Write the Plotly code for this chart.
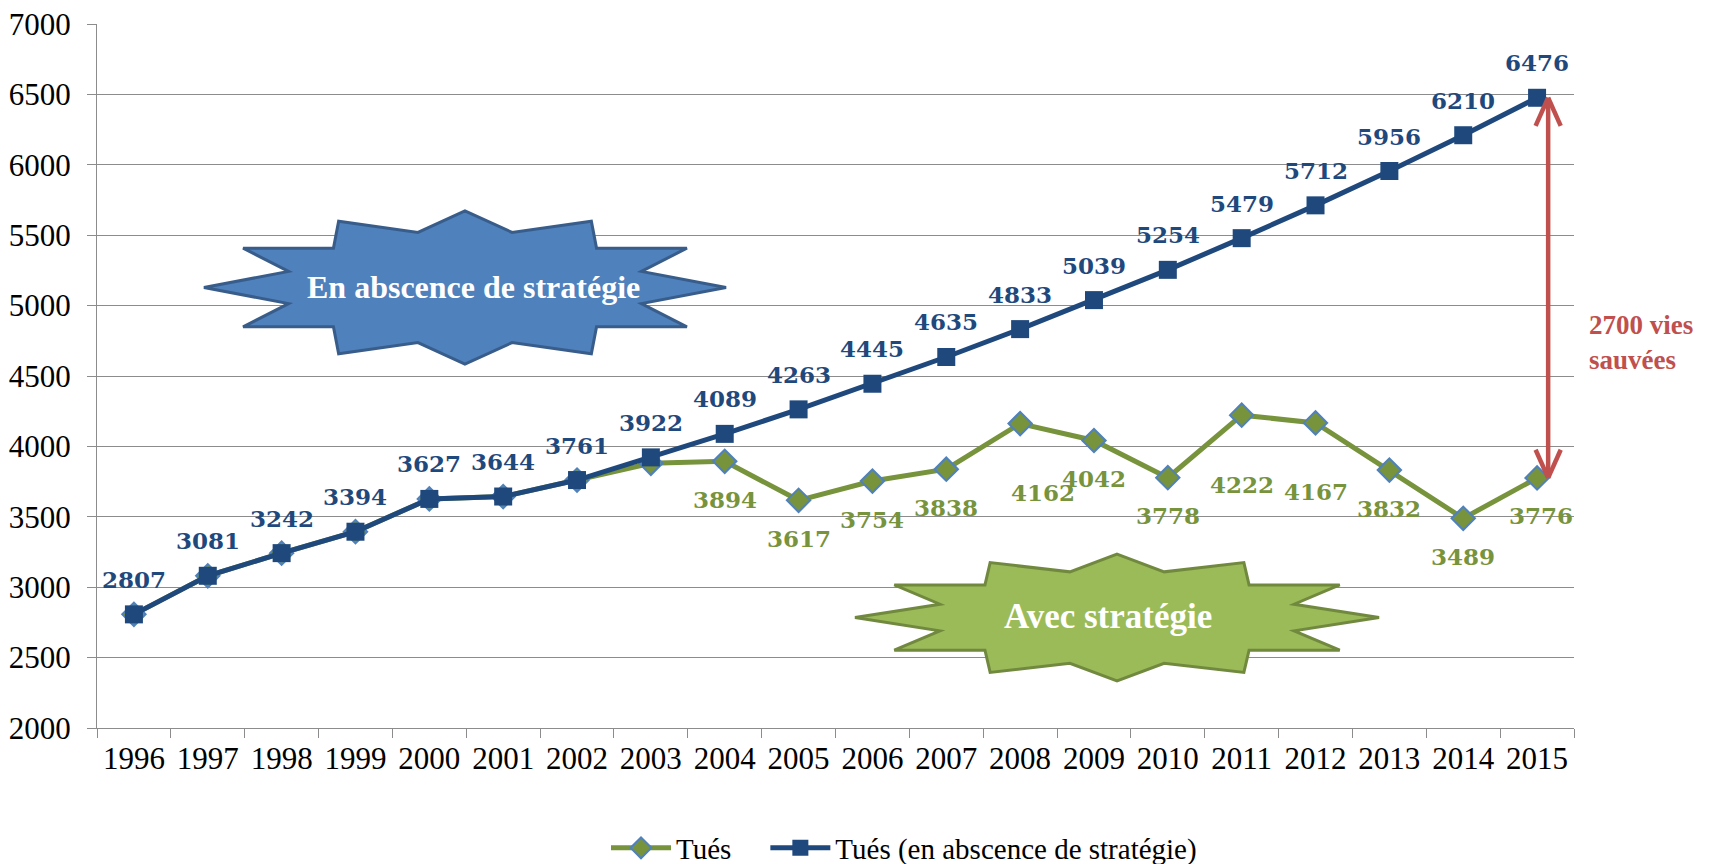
import plotly.graph_objects as go

years = [str(y) for y in range(1996, 2016)]
tues_sans = [2807, 3081, 3242, 3394, 3627, 3644, 3761, 3922, 4089, 4263,
             4445, 4635, 4833, 5039, 5254, 5479, 5712, 5956, 6210, 6476]
tues = [2807, 3081, 3242, 3394, 3627, 3644, 3761, 3880, 3894, 3617,
        3754, 3838, 4162, 4042, 3778, 4222, 4167, 3832, 3489, 3776]
first_green_label = "2004"
y_ticks = [2000, 2500, 3000, 3500, 4000, 4500, 5000, 5500, 6000, 6500, 7000]

BLUE = "#1F497D"
GREEN = "#77933C"
RED = "#C0504D"
GRID = "#8C8C8C"

W, H = 1720, 864
ML, MR, MT, MB = 97, 146, 24, 136

fig = go.Figure()
fig.add_trace(go.Scatter(
    x=years, y=tues, name="Tués\u00a0\u00a0\u00a0\u00a0", mode="lines+markers",
    line=dict(color=GREEN, width=5),
    marker=dict(symbol="diamond", size=18, color=GREEN, line=dict(color="#4F81BD", width=2)),
    hoverinfo="x+y",
))
fig.add_trace(go.Scatter(
    x=years, y=tues_sans, name="Tués (en abscence de stratégie)", mode="lines+markers",
    line=dict(color=BLUE, width=5),
    marker=dict(symbol="square", size=18, color=BLUE),
    hoverinfo="x+y",
))

# starburst template (normalized, v measured from top)
star = [(0.5, 0.0), (0.59, 0.14), (0.742, 0.067), (0.752, 0.243), (0.925, 0.243),
        (0.838, 0.395), (1.0, 0.5), (0.838, 0.605), (0.925, 0.757), (0.752, 0.757),
        (0.742, 0.933), (0.59, 0.86), (0.5, 1.0), (0.41, 0.86), (0.258, 0.933),
        (0.248, 0.757), (0.075, 0.757), (0.162, 0.605), (0.0, 0.5), (0.162, 0.395),
        (0.075, 0.243), (0.248, 0.243), (0.258, 0.067), (0.41, 0.14)]


def star_path(x0, x1, y0, y1):
    pts = [(x0 + u * (x1 - x0), y1 - v * (y1 - y0)) for u, v in star]
    return "M " + " L ".join(f"{x:.4f},{y:.4f}" for x, y in pts) + " Z"


shapes = [
    dict(type="path", xref="paper", yref="paper", path=star_path(0.0724, 0.4259, 0.517, 0.7344),
         fillcolor="#4F81BD", line=dict(color="#385D8A", width=3), layer="above"),
    dict(type="path", xref="paper", yref="paper", path=star_path(0.5132, 0.868, 0.0668, 0.247),
         fillcolor="#9BBB59", line=dict(color="#71893F", width=3), layer="above"),
]

# red double arrow between the two 2015 values
ax = len(years) - 1 + 0.15
top, bot = tues_sans[-1], tues[-1]
hw, hl = 0.17, 200
for (xa, ya, xb, yb) in [(ax, bot, ax, top),
                         (ax, top, ax - hw, top - hl), (ax, top, ax + hw, top - hl),
                         (ax, bot, ax - hw, bot + hl), (ax, bot, ax + hw, bot + hl)]:
    shapes.append(dict(type="line", xref="x", yref="y", x0=xa, y0=ya, x1=xb, y1=yb,
                       line=dict(color=RED, width=4.5), layer="above"))

label_font = dict(family="DejaVu Serif", size=23, weight="bold")
annotations = []
for i, v in enumerate(tues_sans):
    annotations.append(dict(x=i, y=v, xref="x", yref="y", text=str(v), showarrow=False,
                            yshift=35, font=dict(label_font, color=BLUE)))

green_shift = {"2008": (23, -69), "2011": (0, -69), "2012": (0, -69), "2015": (4, -38)}
start = years.index(first_green_label)
for i in range(start, len(years)):
    dx, dy = green_shift.get(years[i], (0, -38))
    annotations.append(dict(x=i, y=tues[i], xref="x", yref="y", text=str(tues[i]),
                            showarrow=False, xshift=dx, yshift=dy,
                            font=dict(label_font, color=GREEN)))

annotations += [
    dict(xref="paper", yref="paper", x=0.2546, y=0.6264, xanchor="center", yanchor="middle",
         text="En abscence de stratégie", showarrow=False,
         font=dict(family="Liberation Serif", size=32, color="white", weight="bold")),
    dict(xref="paper", yref="paper", x=0.6845, y=0.1577, xanchor="center", yanchor="middle",
         text="Avec stratégie", showarrow=False,
         font=dict(family="Liberation Serif", size=35, color="white", weight="bold")),
    dict(xref="paper", yref="paper", x=1.0088, y=0.548, xanchor="left", yanchor="middle",
         align="left", text="2700 vies<br>sauvées", showarrow=False,
         font=dict(family="Liberation Serif", size=27, color=RED, weight="bold")),
]

fig.update_layout(
    width=W, height=H,
    margin=dict(l=ML, r=MR, t=MT, b=MB, autoexpand=False),
    paper_bgcolor="white", plot_bgcolor="white",
    shapes=shapes, annotations=annotations,
    showlegend=True,
    legend=dict(orientation="h", xref="container", yref="container",
                x=606 / W, y=16 / H, xanchor="left", yanchor="middle",
                font=dict(family="Liberation Serif", size=29, color="black"),
                itemwidth=60, traceorder="normal", bgcolor="rgba(0,0,0,0)"),
    xaxis=dict(type="category", categoryarray=years, range=[-0.5, len(years) - 0.5],
               automargin=False, showgrid=False, showline=True,
               linecolor=GRID, linewidth=1, ticks="outside", tickson="boundaries",
               ticklen=9, tickcolor=GRID,
               tickfont=dict(family="Liberation Serif", size=31, color="black"),
               ticklabelstandoff=3),
    yaxis=dict(range=[2000, 7000], tickvals=y_ticks, automargin=False,
               ticklabeloverflow="allow", showgrid=True, gridcolor=GRID,
               gridwidth=1, showline=True, linecolor=GRID, linewidth=1, ticks="outside",
               ticklen=9, tickcolor=GRID, zeroline=False,
               tickfont=dict(family="Liberation Serif", size=31, color="black"),
               ticklabelstandoff=10),
)

fig.write_html("out.html",
               config={"displayModeBar": False},
               post_script="document.body.style.margin='0px';"
                           "document.body.style.overflow='hidden';")
